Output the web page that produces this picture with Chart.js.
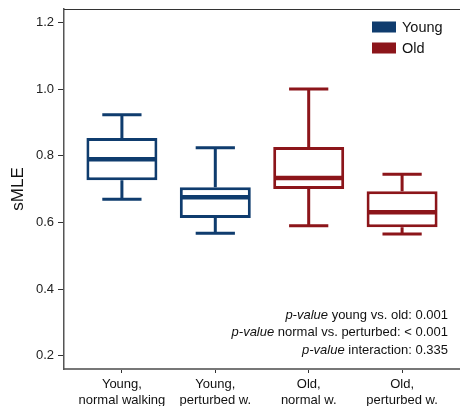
<!DOCTYPE html>
<html lang="en">
<head>
    <meta charset="UTF-8">
    <title>sMLE box plot</title>
    <script src="https://cdn.jsdelivr.net/npm/chart.js"></script>
    <style>
        html, body { margin: 0; padding: 0; background: #fff; }
        #wrap { width: 460px; height: 406px; }
    </style>
</head>
<body>
    <div id="wrap"><canvas id="boxChart"></canvas></div>

    <script>
        // values
        const categories = [['Young,', 'normal walking'], ['Young,', 'perturbed w.'], ['Old,', 'normal w.'], ['Old,', 'perturbed w.']];
        const groups = ['Young', 'Young', 'Old', 'Old'];
        const whiskerLow = [0.669, 0.567, 0.590, 0.565];
        const q1 = [0.726, 0.613, 0.700, 0.585];
        const median = [0.789, 0.675, 0.733, 0.630];
        const q3 = [0.853, 0.705, 0.826, 0.693];
        const whiskerHigh = [0.923, 0.824, 1.000, 0.744];
        const yTicks = [0.2, 0.4, 0.6, 0.8, 1.0, 1.2];
        const pValues = [
            ['p-value', ' young vs. old: 0.001'],
            ['p-value', ' normal vs. perturbed: < 0.001'],
            ['p-value', ' interaction: 0.335']
        ];

        const colors = { Young: '#0f3c6e', Old: '#8c151a' };
        const FONT = '"Liberation Sans", Arial, sans-serif';

        function seriesFor(group) {
            const out = [];
            categories.forEach((c, i) => {
                if (groups[i] === group) out.push({ x: i + 1, y: [q1[i], q3[i]], idx: i });
            });
            return out;
        }

        // whiskers, caps, medians, legend, p-values, top frame line
        const boxExtras = {
            id: 'boxExtras',
            afterDatasetsDraw(chart) {
                const ctx = chart.ctx;
                const xs = chart.scales.x, ys = chart.scales.y;
                ctx.save();
                ctx.lineCap = 'butt';
                chart.data.datasets.forEach((ds, di) => {
                    const meta = chart.getDatasetMeta(di);
                    ds.data.forEach((d, j) => {
                        const i = d.idx;
                        const bar = meta.data[j];
                        const cx = xs.getPixelForValue(d.x);
                        const capL = xs.getPixelForValue(d.x - 0.21);
                        const capR = xs.getPixelForValue(d.x + 0.21);
                        ctx.strokeStyle = ds.borderColor;
                        ctx.lineWidth = 3;
                        ctx.beginPath();
                        ctx.moveTo(cx, ys.getPixelForValue(q3[i]));
                        ctx.lineTo(cx, ys.getPixelForValue(whiskerHigh[i]));
                        ctx.moveTo(cx, ys.getPixelForValue(q1[i]));
                        ctx.lineTo(cx, ys.getPixelForValue(whiskerLow[i]));
                        ctx.moveTo(capL, ys.getPixelForValue(whiskerHigh[i]));
                        ctx.lineTo(capR, ys.getPixelForValue(whiskerHigh[i]));
                        ctx.moveTo(capL, ys.getPixelForValue(whiskerLow[i]));
                        ctx.lineTo(capR, ys.getPixelForValue(whiskerLow[i]));
                        ctx.stroke();
                        // median
                        const half = bar.width / 2 - 2;
                        ctx.lineWidth = 4.5;
                        ctx.beginPath();
                        ctx.moveTo(cx - half, ys.getPixelForValue(median[i]));
                        ctx.lineTo(cx + half, ys.getPixelForValue(median[i]));
                        ctx.stroke();
                    });
                });
                ctx.restore();
            },
            afterDraw(chart) {
                const ctx = chart.ctx;
                const area = chart.chartArea;
                ctx.save();
                // top frame line
                ctx.strokeStyle = '#333';
                ctx.lineWidth = 1;
                ctx.beginPath();
                ctx.moveTo(area.left, area.top + 0.5);
                ctx.lineTo(area.right, area.top + 0.5);
                ctx.stroke();

                // legend
                ctx.textBaseline = 'middle';
                ctx.textAlign = 'left';
                ctx.font = '14.5px ' + FONT;
                chart.data.datasets.forEach((ds, k) => {
                    const y = area.top + 18 + k * 21;
                    ctx.fillStyle = ds.borderColor;
                    ctx.fillRect(area.right - 88, y - 5.5, 24, 11);
                    ctx.fillStyle = '#111';
                    ctx.fillText(ds.label, area.right - 58, y + 0.5);
                });

                // p-values
                ctx.textAlign = 'right';
                const xr = area.right - 12;
                pValues.forEach((p, k) => {
                    const y = area.bottom - 54 + k * 17.5;
                    ctx.font = '13px ' + FONT;
                    ctx.fillStyle = '#111';
                    ctx.fillText(p[1], xr, y);
                    const w = ctx.measureText(p[1]).width;
                    ctx.font = 'italic 13px ' + FONT;
                    ctx.fillText(p[0], xr - w, y);
                });
                ctx.restore();
            }
        };

        new Chart(document.getElementById('boxChart'), {
            type: 'bar',
            data: {
                datasets: ['Young', 'Old'].map(g => ({
                    label: g,
                    data: seriesFor(g),
                    backgroundColor: '#ffffff',
                    borderColor: colors[g],
                    borderWidth: 3,
                    borderSkipped: false,
                    grouped: false,
                    barPercentage: 0.76,
                    categoryPercentage: 1
                }))
            },
            options: {
                responsive: true,
                maintainAspectRatio: false,
                animation: false,
                layout: { padding: { top: 9, right: 0, left: 0, bottom: 0 } },
                plugins: {
                    legend: { display: false },
                    tooltip: { enabled: false }
                },
                scales: {
                    x: {
                        type: 'linear',
                        min: 0.38,
                        max: 4.62,
                        offset: false,
                        afterBuildTicks: s => { s.ticks = categories.map((c, i) => ({ value: i + 1 })); },
                        afterFit: s => { s.height = 37; s.paddingLeft = 0; s.paddingRight = 0; },
                        ticks: {
                            callback: v => categories[v - 1],
                            color: '#111',
                            padding: 3,
                            maxRotation: 0,
                            autoSkip: false,
                            font: { family: FONT, size: 13, lineHeight: 1.25 }
                        },
                        grid: { drawOnChartArea: false, offset: false, tickLength: 4, color: '#333' },
                        border: { display: true, color: '#777', width: 2 }
                    },
                    y: {
                        min: 0.16,
                        max: 1.24,
                        afterBuildTicks: s => { s.ticks = yTicks.map(v => ({ value: v })); },
                        afterFit: s => { s.width = 64; s.paddingTop = 0; s.paddingBottom = 0; },
                        ticks: {
                            callback: v => v.toFixed(1),
                            color: '#222',
                            padding: 4,
                            font: { family: FONT, size: 13 }
                        },
                        grid: { drawOnChartArea: false, tickLength: 6, color: '#333' },
                        border: { display: true, color: '#555', width: 1.5 },
                        title: {
                            display: true,
                            text: 'sMLE',
                            color: '#111',
                            padding: { top: 8, bottom: 0 },
                            font: { family: FONT, size: 17 }
                        }
                    }
                }
            },
            plugins: [boxExtras]
        });
    </script>
</body>
</html>
